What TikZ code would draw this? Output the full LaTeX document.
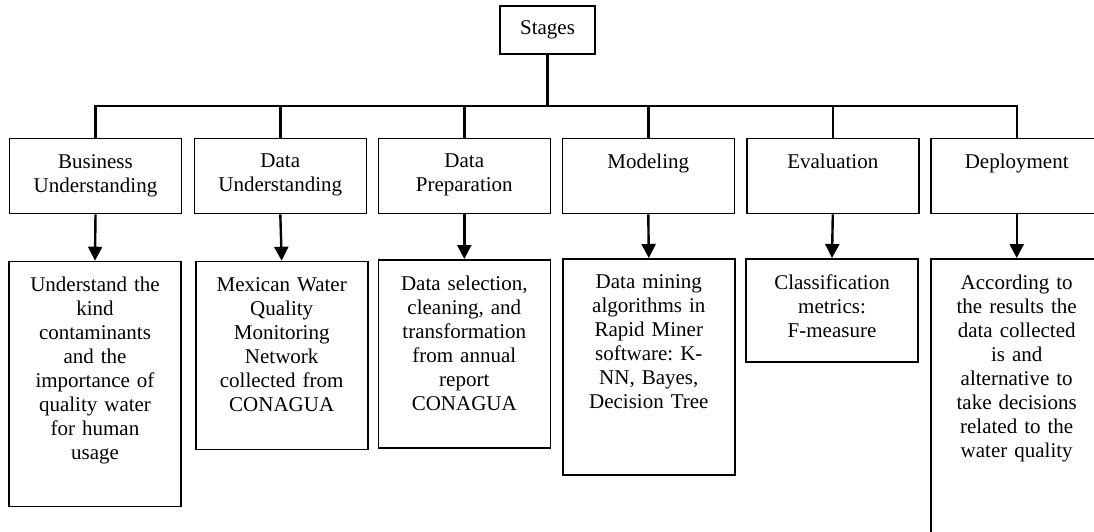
\documentclass[tikz,border=0pt]{standalone}
\usepackage{fontspec}
\setmainfont{Liberation Serif}
\usetikzlibrary{arrows.meta}
\frenchspacing

\tikzset{
	stagebox/.style={draw, line width=1.6pt, minimum width=172pt, inner sep=0pt, anchor=north},
	boxtext/.style={anchor=north, align=center, text width=168pt, inner sep=0pt, yshift=-16.3pt},
	bus/.style={line width=2.4pt},
	flow/.style={line width=2.4pt, -{Triangle[width=14pt,length=14pt]}}
}

\begin{document}
\begin{tikzpicture}[x=1pt, y=-1pt, every node/.style={font=\fontsize{21}{24}\selectfont}]
	
	\useasboundingbox (0,0) rectangle (1094,531);
	\clip (0,0) rectangle (1094,531);
	
	%top of the tree
	\node[draw, line width=1.6pt, minimum width=95pt, minimum height=48pt, inner sep=0pt] (stages) at (547.5,30) {Stages};
	\coordinate (busmid) at (547.5,106);
	
	%stage boxes
	\node[stagebox, minimum height=75pt, label={[boxtext]north:{Business\\Understanding}}] (bu) at (95.5,137.7) {};
	\node[stagebox, minimum height=75pt, label={[boxtext]north:{Data\\Understanding}}] (du) at (280.3,137.7) {};
	\node[stagebox, minimum height=75pt, label={[boxtext]north:{Data\\Preparation}}] (dp) at (464.3,137.7) {};
	\node[stagebox, minimum height=75pt, label={[boxtext]north:{Modeling}}] (mo) at (648.3,137.7) {};
	\node[stagebox, minimum height=75pt, label={[boxtext]north:{Evaluation}}] (ev) at (832.8,137.7) {};
	\node[stagebox, minimum height=75pt, label={[boxtext]north:{Deployment}}] (dep) at (1016.7,137.7) {};
	
	%what each stage holds
	\node[stagebox, minimum height=245pt, label={[boxtext]north:{Understand the\\kind\\contaminants\\and the\\importance of\\quality water\\for human\\usage}}] (bu1) at (95,260.7) {};
	\node[stagebox, minimum height=188pt, label={[boxtext]north:{Mexican Water\\Quality\\Monitoring\\Network\\collected from\\CONAGUA}}] (du1) at (281.7,260.7) {};
	\node[stagebox, minimum height=188pt, label={[boxtext]north:{Data selection,\\cleaning, and\\transformation\\from annual\\report\\CONAGUA}}] (dp1) at (464.3,259) {};
	\node[stagebox, minimum height=216pt, label={[boxtext]north:{Data mining\\algorithms in\\Rapid Miner\\software: K-\\NN, Bayes,\\Decision Tree}}] (mo1) at (648.8,258) {};
	\node[stagebox, minimum height=103pt, label={[boxtext]north:{Classification\\metrics:\\F-measure}}] (ev1) at (832,258) {};
	\node[stagebox, minimum height=320pt, label={[boxtext]north:{According to\\the results the\\data collected\\is and\\alternative to\\take decisions\\related to the\\water quality}}] (dep1) at (1016.7,258) {};
	
	%bus from the top box
	\draw[bus] (stages.south) -- (busmid);
	\draw[bus] (bu.north) -- (bu.north |- busmid) -- (dep.north |- busmid) -- (dep.north);
	\draw[bus] (du.north) -- (du.north |- busmid);
	\draw[bus] (dp.north) -- (dp.north |- busmid);
	\draw[bus] (mo.north) -- (mo.north |- busmid);
	\draw[bus] (ev.north) -- (ev.north |- busmid);
	
	%arrows down
	\draw[flow] (bu.south) -- (bu1.north);
	\draw[flow] (du.south) -- (du1.north);
	\draw[flow] (dp.south) -- (dp1.north);
	\draw[flow] (mo.south) -- (mo1.north);
	\draw[flow] (ev.south) -- (ev1.north);
	\draw[flow] (dep.south) -- (dep1.north);
	
\end{tikzpicture}
\end{document}
